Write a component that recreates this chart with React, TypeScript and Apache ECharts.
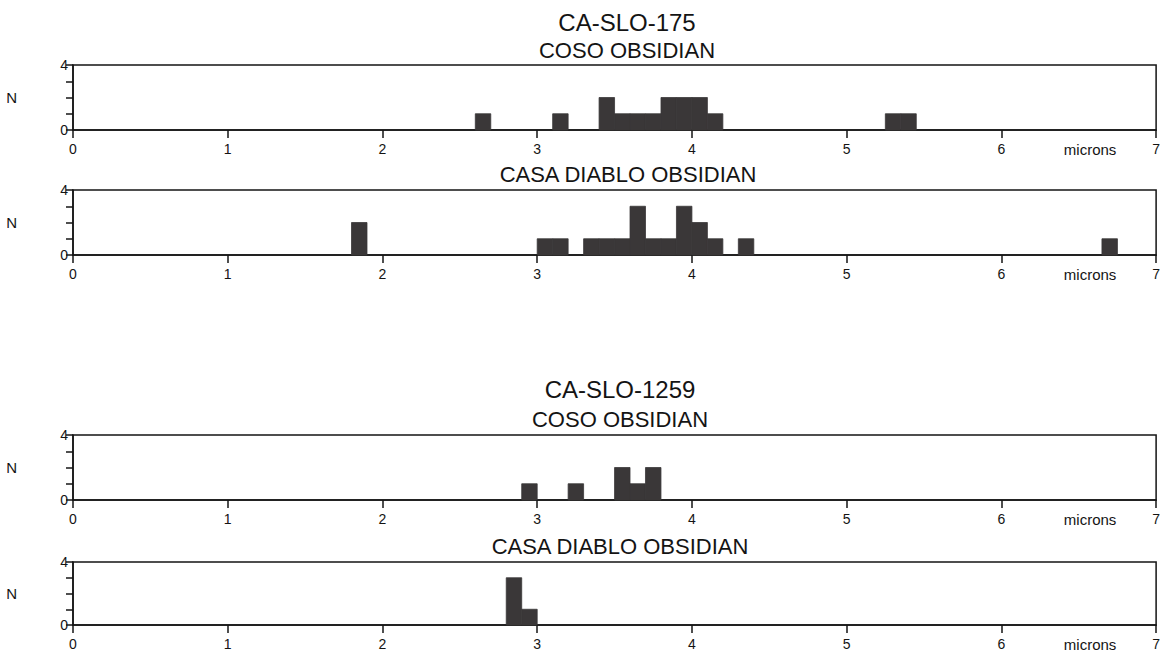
import React, { useEffect, useRef } from "react";
import * as echarts from "echarts";

// Bin width (microns)
const BIN = 0.1;

// CA-SLO-175, Coso obsidian
const slo175CosoStart = [2.6, 3.1, 3.4, 3.5, 3.6, 3.7, 3.8, 3.9, 4.0, 4.1, 5.25, 5.35];
const slo175CosoN = [1, 1, 2, 1, 1, 1, 2, 2, 2, 1, 1, 1];

// CA-SLO-175, Casa Diablo obsidian
const slo175CasaStart = [1.8, 3.0, 3.1, 3.3, 3.4, 3.5, 3.6, 3.7, 3.8, 3.9, 4.0, 4.1, 4.3, 6.65];
const slo175CasaN = [2, 1, 1, 1, 1, 1, 3, 1, 1, 3, 2, 1, 1, 1];

// CA-SLO-1259, Coso obsidian
const slo1259CosoStart = [2.9, 3.2, 3.5, 3.6, 3.7];
const slo1259CosoN = [1, 1, 2, 1, 2];

// CA-SLO-1259, Casa Diablo obsidian
const slo1259CasaStart = [2.8, 2.9];
const slo1259CasaN = [3, 1];

const xTicks = [0, 1, 2, 3, 4, 5, 6, 7];
const yLabelled = [0, 4];

const siteTitles = ["CA-SLO-175", "CA-SLO-1259"];
const panelTitles = ["COSO OBSIDIAN", "CASA DIABLO OBSIDIAN", "COSO OBSIDIAN", "CASA DIABLO OBSIDIAN"];

const FONT = '"Liberation Sans", Arial, Helvetica, sans-serif';
const INK = "#141414";
const BAR = "#3a3738";

export default function App() {
  const ref = useRef<HTMLDivElement>(null);

  useEffect(() => {
    if (!ref.current) return;
    const chart = echarts.init(ref.current, null, { renderer: "svg" });

    const panels = [
      { start: slo175CosoStart, n: slo175CosoN, top: 65 },
      { start: slo175CasaStart, n: slo175CasaN, top: 190 },
      { start: slo1259CosoStart, n: slo1259CosoN, top: 435 },
      { start: slo1259CasaStart, n: slo1259CasaN, top: 562 },
    ];
    const H = 65;

    const grids = panels.map((p) => ({
      left: 73,
      right: 3,
      top: p.top,
      height: H,
      show: true,
      borderColor: INK,
      borderWidth: 1.5,
      backgroundColor: "transparent",
    }));

    const xAxes = panels.map((_, i) => ({
      type: "value",
      gridIndex: i,
      min: 0,
      max: 7,
      interval: 1,
      axisLine: { show: true, lineStyle: { color: INK, width: 1.5 } },
      axisTick: { show: true, length: 8, lineStyle: { color: INK, width: 1.5 } },
      axisLabel: {
        show: true,
        fontSize: 14,
        color: INK,
        fontFamily: FONT,
        margin: 12,
        showMaxLabel: true,
        showMinLabel: true,
        formatter: (v: number) => (xTicks.includes(v) ? String(v) : ""),
      },
      splitLine: { show: false },
      name: "microns",
      nameLocation: "end",
      nameGap: -66,
      nameTextStyle: {
        fontSize: 15,
        color: INK,
        fontFamily: FONT,
        align: "center",
        verticalAlign: "top",
        padding: [12, 0, 0, 0],
      },
    }));

    const yAxes = panels.map((_, i) => ({
      type: "value",
      gridIndex: i,
      min: 0,
      max: 4,
      interval: 1,
      axisLine: { show: true, lineStyle: { color: INK, width: 1.5 } },
      axisTick: { show: true, length: 7, lineStyle: { color: INK, width: 1.5 } },
      axisLabel: {
        fontSize: 14,
        color: INK,
        fontFamily: FONT,
        margin: 5,
        formatter: (v: number) => (yLabelled.includes(v) ? String(v) : ""),
      },
      splitLine: { show: false },
      name: "N",
      nameLocation: "middle",
      nameGap: 56,
      nameRotate: 0,
      nameTextStyle: { fontSize: 15, color: INK, fontFamily: FONT },
    }));

    const series = panels.map((p, i) => ({
      type: "custom",
      xAxisIndex: i,
      yAxisIndex: i,
      data: p.start.map((s, k) => [s, p.n[k]]),
      encode: { x: 0, y: 1 },
      renderItem: (_params: any, api: any) => {
        const x0 = api.value(0);
        const n = api.value(1);
        const a = api.coord([x0, 0]);
        const b = api.coord([x0 + BIN, n]);
        return {
          type: "rect",
          shape: { x: a[0], y: b[1], width: b[0] - a[0], height: a[1] - b[1] },
          style: { fill: BAR, stroke: BAR, lineWidth: 0.8 },
        };
      },
    }));

    const text = (t: string, x: number, y: number, size: number) => ({
      type: "text",
      x,
      y,
      style: {
        text: t,
        fontSize: size,
        fontFamily: FONT,
        fill: INK,
        align: "center",
        verticalAlign: "middle",
      },
    });

    chart.setOption({
      animation: false,
      backgroundColor: "#ffffff",
      grid: grids,
      xAxis: xAxes,
      yAxis: yAxes,
      series,
      graphic: [
        text(siteTitles[0], 627, 22, 24),
        text(panelTitles[0], 627, 50, 22),
        text(panelTitles[1], 628, 174, 22),
        text(siteTitles[1], 620, 389, 24),
        text(panelTitles[2], 620, 419, 22),
        text(panelTitles[3], 620, 546, 22),
      ],
    });

    return () => chart.dispose();
  }, []);

  return (
    <div
      ref={ref}
      style={{ position: "fixed", left: 0, top: 0, width: 1163, height: 652, background: "#fff" }}
    />
  );
}
